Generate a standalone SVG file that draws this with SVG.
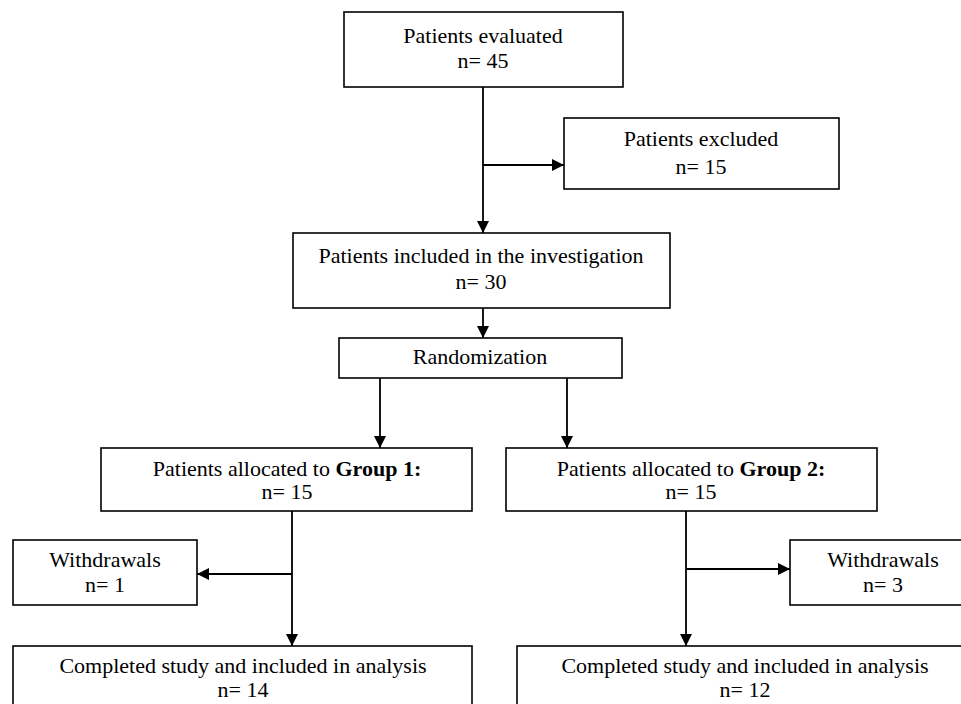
<svg xmlns="http://www.w3.org/2000/svg" width="961" height="704" viewBox="0 0 961 704">
<defs>
<style>
.box{fill:#fff;stroke:#000;stroke-width:1.6}
.t{font-family:"Liberation Serif","Times New Roman",serif;font-size:22px;fill:#000;text-anchor:middle}
.b{font-weight:bold}
.c{stroke:#000;stroke-width:1.8;fill:none}
</style>
<marker id="ah" viewBox="0 0 10 10" refX="10" refY="5" markerWidth="12" markerHeight="12" markerUnits="userSpaceOnUse" orient="auto">
<path d="M0,0 L10,5 L0,10 Z" fill="#000"/>
</marker>
</defs>
<rect width="961" height="704" fill="#fff"/>
<g id="connectors">
<line class="c" x1="483" y1="87" x2="483" y2="233" marker-end="url(#ah)"/>
<line class="c" x1="483" y1="165" x2="564" y2="165" marker-end="url(#ah)"/>
<line class="c" x1="483" y1="308" x2="483" y2="338" marker-end="url(#ah)"/>
<line class="c" x1="380" y1="378" x2="380" y2="448" marker-end="url(#ah)"/>
<line class="c" x1="567" y1="378" x2="567" y2="448" marker-end="url(#ah)"/>
<line class="c" x1="292" y1="511" x2="292" y2="646" marker-end="url(#ah)"/>
<line class="c" x1="292" y1="574" x2="197" y2="574" marker-end="url(#ah)"/>
<line class="c" x1="686" y1="511" x2="686" y2="646" marker-end="url(#ah)"/>
<line class="c" x1="686" y1="569" x2="790" y2="569" marker-end="url(#ah)"/>
</g>
<g id="evaluated">
<rect class="box" x="344" y="12" width="279" height="75"/>
<text class="t" x="483" y="43">Patients evaluated</text>
<text class="t" x="483" y="68">n= 45</text>
</g>
<g id="excluded">
<rect class="box" x="564" y="118" width="275" height="71"/>
<text class="t" x="701" y="146">Patients excluded</text>
<text class="t" x="701" y="174">n= 15</text>
</g>
<g id="included">
<rect class="box" x="293" y="233" width="377" height="75"/>
<text class="t" x="481" y="263">Patients included in the investigation</text>
<text class="t" x="481" y="289">n= 30</text>
</g>
<g id="randomization">
<rect class="box" x="339" y="338" width="283" height="40"/>
<text class="t" x="480" y="364">Randomization</text>
</g>
<g id="group1">
<rect class="box" x="101" y="448" width="371" height="63"/>
<text class="t" x="287" y="476">Patients allocated to <tspan class="b">Group 1:</tspan></text>
<text class="t" x="287" y="499">n= 15</text>
</g>
<g id="group2">
<rect class="box" x="506" y="448" width="371" height="63"/>
<text class="t" x="691" y="476">Patients allocated to <tspan class="b">Group 2:</tspan></text>
<text class="t" x="691" y="499">n= 15</text>
</g>
<g id="withdrawals1">
<rect class="box" x="13" y="540" width="184" height="65"/>
<text class="t" x="105" y="567">Withdrawals</text>
<text class="t" x="105" y="592">n= 1</text>
</g>
<g id="withdrawals2">
<rect class="box" x="790" y="540" width="186" height="65"/>
<text class="t" x="883" y="567">Withdrawals</text>
<text class="t" x="883" y="592">n= 3</text>
</g>
<g id="completed1">
<rect class="box" x="13" y="646" width="459" height="80"/>
<text class="t" x="243" y="673">Completed study and included in analysis</text>
<text class="t" x="243" y="697">n= 14</text>
</g>
<g id="completed2">
<rect class="box" x="517" y="646" width="456" height="80"/>
<text class="t" x="745" y="673">Completed study and included in analysis</text>
<text class="t" x="745" y="697">n= 12</text>
</g>
</svg>
